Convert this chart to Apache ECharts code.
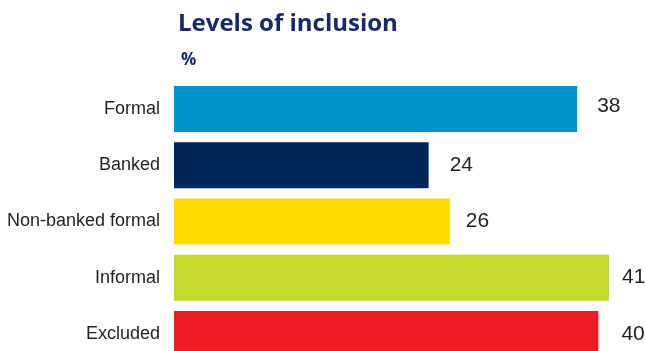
<!DOCTYPE html>
<html>
<head>
<meta charset="utf-8">
<script src="https://cdn.jsdelivr.net/npm/echarts@6/dist/echarts.min.js"></script>
<style>
html,body{margin:0;padding:0;background:#fff;}
#chart{width:645px;height:351px;}
</style>
</head>
<body>
<div id="chart"></div>
<script>
const categories = ['Formal', 'Banked', 'Non-banked formal', 'Informal', 'Excluded'];
const values = [38, 24, 26, 41, 40];
const barColors = ['#0094cf', '#00265a', '#ffdc00', '#c3d92f', '#ec1c24'];
const labelGaps = [20, 21, 16, 13, 23];
const labelRaise = [-3, 0, 0, 0, 0];

const chart = echarts.init(document.getElementById('chart'));
chart.setOption({
  animation: false,
  backgroundColor: '#ffffff',
  title: [
    {
      text: 'Levels of inclusion',
      left: 173,
      top: 7,
      textStyle: { fontFamily: 'Open Sans', fontWeight: 'bold', fontSize: 24, color: '#162a6b' }
    },
    {
      text: '%',
      left: 176,
      top: 47,
      textStyle: { fontFamily: 'Open Sans', fontWeight: 'bold', fontSize: 17, color: '#162a6b' }
    }
  ],
  grid: { left: 174, top: 81, width: 435, height: 281, containLabel: false, outerBoundsMode: 'none' },
  xAxis: {
    type: 'value',
    min: 0,
    max: 41,
    show: false
  },
  yAxis: {
    type: 'category',
    data: categories,
    inverse: true,
    axisLine: { show: false },
    axisTick: { show: false },
    axisLabel: {
      margin: 14,
      padding: [5, 0, 0, 0],
      fontFamily: "'Liberation Sans', Arial, sans-serif",
      fontSize: 18,
      color: '#231f20'
    }
  },
  series: [{
    type: 'bar',
    barWidth: 46,
    data: values.map((v, i) => ({
      value: v,
      itemStyle: { color: barColors[i] },
      label: { distance: labelGaps[i], offset: [0, labelRaise[i]] }
    })),
    label: {
      show: true,
      position: 'right',
      fontFamily: "'Liberation Sans', Arial, sans-serif",
      fontSize: 21,
      color: '#231f20'
    }
  }]
});
</script>
</body>
</html>
